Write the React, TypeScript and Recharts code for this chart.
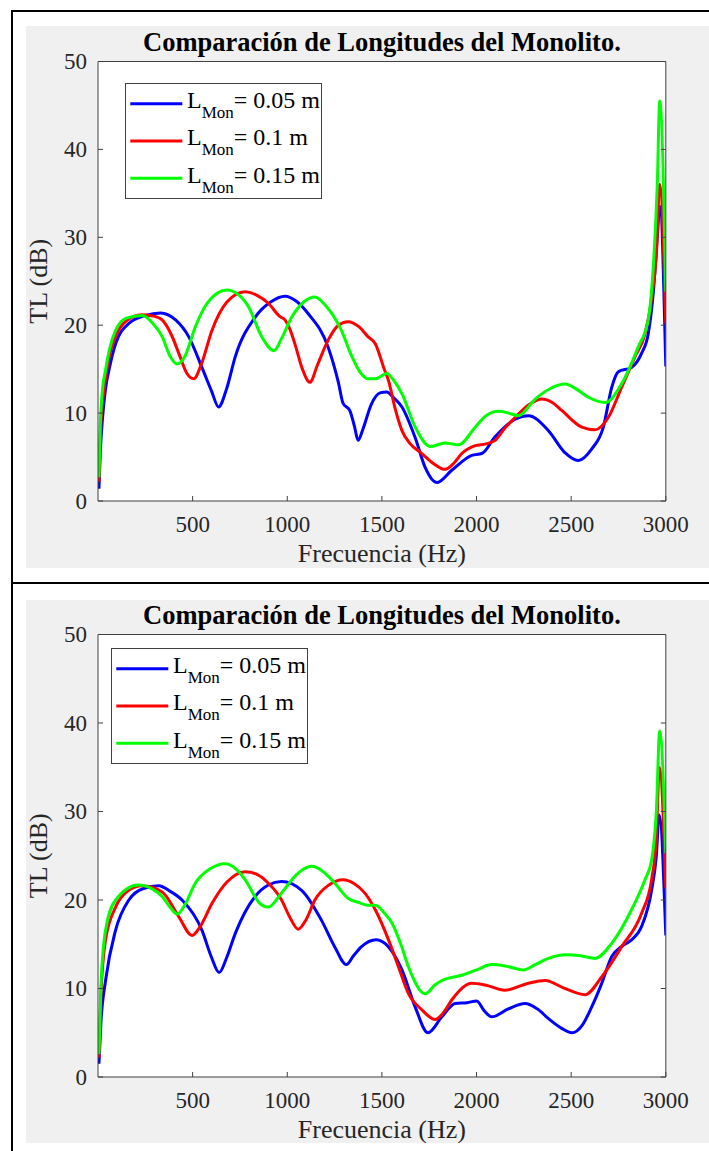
import { CartesianGrid, Label, Legend, Line, LineChart, XAxis, YAxis } from "recharts";

// ejes y series
const freqTicks = [500, 1000, 1500, 2000, 2500, 3000];
const tlTicks = [0, 10, 20, 30, 40, 50];
const seriesNames = ["0.05 m", "0.1 m", "0.15 m"];
const seriesColors = ["#0000ff", "#ff0000", "#00ff00"];

// Panel superior
const fTopBlue = [5, 12, 23, 40, 58, 93, 163, 250, 330, 410, 479, 549, 600, 637, 680, 725, 830, 910, 988, 1050, 1111, 1216, 1270, 1295, 1330, 1355, 1374, 1400, 1444, 1490, 1526, 1560, 1606, 1676, 1729, 1790, 1869, 1975, 2028, 2098, 2204, 2274, 2380, 2467, 2538, 2608, 2670, 2714, 2749, 2819, 2872, 2907, 2935, 2955, 2968, 3000];
const tlTopBlue = [1.4, 5.5, 9.2, 12.8, 14.9, 17.9, 20.2, 21.1, 21.4, 20.6, 18.7, 15.2, 12.5, 10.7, 12.8, 16.4, 20.9, 22.6, 23.3, 22.7, 21.3, 17.5, 13.5, 11.1, 10.3, 8.5, 6.9, 8.2, 11.0, 12.3, 12.4, 11.8, 10.7, 7.2, 3.8, 2.1, 3.5, 5.2, 5.4, 7.3, 9.3, 9.7, 8.0, 5.5, 4.6, 5.9, 8.4, 12.9, 14.7, 15.2, 16.8, 19.0, 24, 30, 33.5, 15.3];

const fTopRed = [5, 12, 23, 40, 60, 93, 150, 233, 300, 339, 390, 427, 470, 506, 545, 602, 680, 777, 840, 900, 960, 988, 1015, 1040, 1080, 1119, 1160, 1216, 1270, 1321, 1380, 1426, 1465, 1514, 1535, 1570, 1606, 1650, 1711, 1770, 1834, 1880, 1922, 1993, 2050, 2098, 2150, 2204, 2280, 2345, 2400, 2450, 2556, 2626, 2696, 2766, 2837, 2890, 2925, 2950, 2968, 3000];
const tlTopRed = [2.2, 7.5, 11, 14, 16.5, 18.7, 20.5, 21.2, 21.0, 20.6, 18.8, 16.8, 14.5, 13.9, 15.5, 19.4, 22.6, 23.8, 23.4, 22.5, 21.0, 20.6, 19.5, 17.9, 15.0, 13.5, 15.5, 18.3, 20.0, 20.4, 19.8, 18.7, 17.9, 14.9, 13.7, 10.5, 8.0, 6.5, 5.4, 4.3, 3.6, 4.3, 5.4, 6.3, 6.5, 6.9, 8.3, 9.5, 11.0, 11.6, 11.2, 10.3, 8.4, 8.1, 9.5, 12.9, 16.4, 19.0, 23, 28, 36, 20.2];

const fTopGreen = [5, 12, 23, 40, 60, 93, 150, 233, 290, 339, 380, 418, 460, 514, 580, 681, 740, 795, 865, 930, 970, 1023, 1090, 1146, 1200, 1286, 1340, 1390, 1426, 1465, 1526, 1560, 1606, 1676, 1755, 1834, 1905, 1993, 2050, 2116, 2170, 2222, 2310, 2390, 2468, 2530, 2591, 2679, 2766, 2854, 2907, 2935, 2955, 2968, 3000];
const tlTopGreen = [2.7, 8.5, 12.5, 14.9, 17.2, 19.4, 20.8, 21.1, 20.2, 18.7, 16.5, 15.6, 16.5, 19.8, 22.6, 24.0, 23.5, 22.1, 18.7, 17.1, 18.5, 20.9, 22.7, 23.2, 22.3, 19.4, 16.5, 14.5, 13.9, 13.9, 14.5, 13.8, 12.2, 8.4, 6.2, 6.6, 6.4, 8.4, 9.7, 10.2, 10.0, 9.7, 11.6, 12.8, 13.3, 12.7, 11.8, 11.2, 13.3, 17.5, 20.6, 27, 36, 45.5, 23.8];

// Panel inferior
const fBotBlue = [5, 15, 40, 93, 163, 240, 321, 380, 444, 549, 600, 640, 680, 725, 830, 900, 970, 1076, 1181, 1251, 1312, 1350, 1391, 1470, 1535, 1606, 1676, 1743, 1817, 1887, 1950, 2001, 2040, 2080, 2168, 2256, 2320, 2380, 2450, 2503, 2560, 2608, 2660, 2714, 2770, 2819, 2872, 2925, 2950, 2965, 3000];
const tlBotBlue = [1.5, 6, 10.9, 16.6, 20.0, 21.3, 21.6, 21.0, 20.0, 16.6, 13.5, 11.8, 13.5, 16.2, 20.4, 21.7, 22.1, 21.1, 17.7, 14.7, 12.7, 13.7, 14.7, 15.5, 14.7, 12.1, 7.9, 5.0, 6.8, 8.3, 8.4, 8.6, 7.5, 6.8, 7.7, 8.3, 7.7, 6.6, 5.5, 5.0, 5.9, 7.9, 10.5, 13.6, 14.8, 15.5, 17.0, 21.1, 25, 29.6, 16.0];

const fBotRed = [5, 15, 40, 93, 150, 233, 339, 427, 497, 540, 602, 680, 777, 840, 900, 970, 1010, 1058, 1100, 1146, 1220, 1295, 1350, 1409, 1465, 1535, 1590, 1641, 1711, 1781, 1830, 1869, 1975, 2045, 2150, 2274, 2362, 2467, 2573, 2661, 2766, 2872, 2925, 2950, 2966, 3000];
const tlBotRed = [2.2, 9, 15.5, 19.2, 20.9, 21.6, 20.9, 18.1, 16.0, 17.0, 19.6, 22.0, 23.2, 22.9, 21.9, 20.0, 18.2, 16.7, 17.8, 20.0, 21.7, 22.3, 21.9, 20.8, 18.9, 15.5, 12.3, 9.4, 7.6, 6.5, 7.4, 8.7, 10.6, 10.4, 9.8, 10.6, 10.9, 10.0, 9.3, 11.3, 14.7, 18.5, 22.3, 27, 35, 21.3];

const fBotGreen = [5, 15, 40, 93, 212, 290, 339, 380, 418, 460, 514, 590, 672, 730, 777, 856, 900, 970, 1050, 1128, 1190, 1251, 1321, 1380, 1426, 1465, 1514, 1553, 1600, 1641, 1729, 1780, 1817, 1922, 2000, 2080, 2160, 2248, 2310, 2380, 2468, 2550, 2626, 2714, 2819, 2890, 2925, 2950, 2968, 3000];
const tlBotGreen = [2.6, 10, 16.6, 20.0, 21.7, 21.2, 20.4, 19.2, 18.4, 19.5, 21.9, 23.5, 24.1, 23.5, 22.3, 19.6, 19.2, 20.8, 22.9, 23.8, 23.2, 21.9, 20.2, 19.7, 19.4, 19.4, 18.5, 17.4, 15.0, 12.4, 9.4, 10.4, 10.9, 11.5, 12.1, 12.7, 12.5, 12.1, 12.7, 13.4, 13.8, 13.7, 13.4, 15.1, 18.9, 22.3, 24.5, 30, 39.1, 25.3];

const FONT = '"Liberation Serif", "Times New Roman", serif';
const AXIS = "#404040";
const TEXT = "#262626";
const CHART_X = 13; // el svg empieza junto al borde, el fondo gris en x=26
const CHART_W = 696;
const PLOT_L = 85;
const PLOT_R = 652.8;

const zip = (f: number[], v: number[]) => f.map((x, i) => ({ f: x, tl: v[i] }));

const LeftTick = (p: any) => (
  <g>
    <line x1={p.x} y1={p.y} x2={p.x + 5} y2={p.y} stroke={AXIS} />
    <text x={p.x - 11} y={p.y + 7.5} textAnchor="end" fontSize={23} fontFamily={FONT} fill={TEXT}>
      {p.payload.value}
    </text>
  </g>
);
const RightTick = (p: any) => <line x1={p.x} y1={p.y} x2={p.x - 5} y2={p.y} stroke={AXIS} />;
const TopTick = (p: any) => <line x1={p.x} y1={p.y} x2={p.x} y2={p.y + 5} stroke={AXIS} />;
const BottomTick = (p: any) => (
  <g>
    <line x1={p.x} y1={p.y} x2={p.x} y2={p.y - 5} stroke={AXIS} />
    <text x={p.x} y={p.y + 30.5} textAnchor="middle" fontSize={23} fontFamily={FONT} fill={TEXT}>
      {p.payload.value}
    </text>
  </g>
);

const LegendBox = (props: any) => {
  const items = props.payload && props.payload.length ? props.payload : seriesNames.map((n, i) => ({ value: n, color: seriesColors[i] }));
  return (
    <svg width={197} height={116} style={{ display: "block" }}>
      <rect x={0.5} y={0.5} width={196} height={115} fill="#fff" stroke={AXIS} />
      {items.map((it: any, i: number) => {
        const cy = 20.7 + i * 37.3;
        return (
          <g key={it.value}>
            <line x1={5.3} x2={57.3} y1={cy} y2={cy} stroke={it.color} strokeWidth={3} />
            <text x={62} y={cy + 4.3} fontFamily={FONT} fontSize={24} fill="#000">
              <tspan>L</tspan>
              <tspan fontSize={17} dy={10}>Mon</tspan>
              <tspan dy={-10}>{"= " + it.value}</tspan>
            </text>
          </g>
        );
      })}
    </svg>
  );
};

interface PanelProps {
  top: number;
  height: number;
  plotTop: number;
  plotBottom: number;
  legendLeft: number;
  legendTop: number;
  blue: { f: number; tl: number }[];
  red: { f: number; tl: number }[];
  green: { f: number; tl: number }[];
}

function Panel({ top, height, plotTop, plotBottom, legendLeft, legendTop, blue, red, green }: PanelProps) {
  const m = { top: 5, right: 10, bottom: 5, left: 10 };
  const topH = plotTop - top - m.top;
  const botH = top + height - plotBottom - m.bottom;
  const pt = plotTop - top;
  const pb = plotBottom - top;
  const cx = (PLOT_L + PLOT_R) / 2;
  const series = [blue, red, green];
  return (
    <>
      <div style={{ position: "absolute", left: 26, top, width: 683, height, background: "#f0f0f0" }} />
      <div style={{ position: "absolute", left: CHART_X, top, width: CHART_W, height }}>
        <LineChart width={CHART_W} height={height} margin={m}>
          <CartesianGrid xAxisId="bottom" yAxisId="left" horizontal={false} vertical={false} fill="#fff" />
          <XAxis xAxisId="top" orientation="top" type="number" domain={[0, 3000]} ticks={freqTicks} interval={0}
            height={topH} tickSize={0} tickMargin={0} tickLine={false} tick={TopTick} axisLine={{ stroke: AXIS }} allowDataOverflow>
            <Label content={() => (
              <text x={cx} y={pt - 11} textAnchor="middle" fontFamily={FONT} fontWeight="bold" fontSize={26.5} fill="#000">
                Comparación de Longitudes del Monolito.
              </text>
            )} />
          </XAxis>
          <XAxis xAxisId="bottom" dataKey="f" type="number" domain={[0, 3000]} ticks={freqTicks} interval={0}
            height={botH} tickSize={0} tickMargin={0} tickLine={false} tick={BottomTick} axisLine={{ stroke: AXIS }} allowDataOverflow>
            <Label content={() => (
              <text x={cx} y={pb + 61} textAnchor="middle" fontFamily={FONT} fontSize={26} fill={TEXT}>
                Frecuencia (Hz)
              </text>
            )} />
          </XAxis>
          <YAxis yAxisId="left" type="number" domain={[0, 50]} ticks={tlTicks} interval={0} width={PLOT_L - m.left}
            tickSize={0} tickMargin={0} tickLine={false} tick={LeftTick} axisLine={{ stroke: AXIS }} allowDataOverflow>
            <Label content={() => {
              const ly = (pt + pb) / 2;
              const lx = 47 - CHART_X;
              return (
                <text x={lx} y={ly} transform={`rotate(-90, ${lx}, ${ly})`} textAnchor="middle" fontFamily={FONT} fontSize={26} fill={TEXT}>
                  TL (dB)
                </text>
              );
            }} />
          </YAxis>
          <YAxis yAxisId="right" orientation="right" type="number" domain={[0, 50]} ticks={tlTicks} interval={0}
            width={CHART_W - PLOT_R - m.right} tickSize={0} tickMargin={0} tickLine={false} tick={RightTick}
            axisLine={{ stroke: AXIS }} allowDataOverflow />
          {series.map((d, i) => (
            <Line key={seriesNames[i]} data={d} dataKey="tl" name={seriesNames[i]} xAxisId="bottom" yAxisId="left"
              type="monotone" stroke={seriesColors[i]} strokeWidth={3} dot={false} activeDot={false}
              isAnimationActive={false} />
          ))}
          <Legend layout="horizontal" verticalAlign="middle" align="center" content={LegendBox}
            wrapperStyle={{ left: legendLeft, top: legendTop, width: 197, height: 116 }} />
        </LineChart>
      </div>
    </>
  );
}

export default function App() {
  return (
    <div style={{ position: "absolute", left: 0, top: 0, width: 709, height: 1151, background: "#fff", overflow: "hidden" }}>
      <div style={{ position: "absolute", left: 11, top: 10, width: 2, height: 1141, background: "#000" }} />
      <div style={{ position: "absolute", left: 11, top: 10, width: 698, height: 2, background: "#000" }} />
      <div style={{ position: "absolute", left: 11, top: 582, width: 698, height: 2, background: "#000" }} />
      <Panel top={26} height={542} plotTop={61.5} plotBottom={501} legendLeft={111.7} legendTop={57.3}
        blue={zip(fTopBlue, tlTopBlue)} red={zip(fTopRed, tlTopRed)} green={zip(fTopGreen, tlTopGreen)} />
      <Panel top={600} height={543} plotTop={634.5} plotBottom={1077} legendLeft={98.3} legendTop={47.7}
        blue={zip(fBotBlue, tlBotBlue)} red={zip(fBotRed, tlBotRed)} green={zip(fBotGreen, tlBotGreen)} />
    </div>
  );
}
